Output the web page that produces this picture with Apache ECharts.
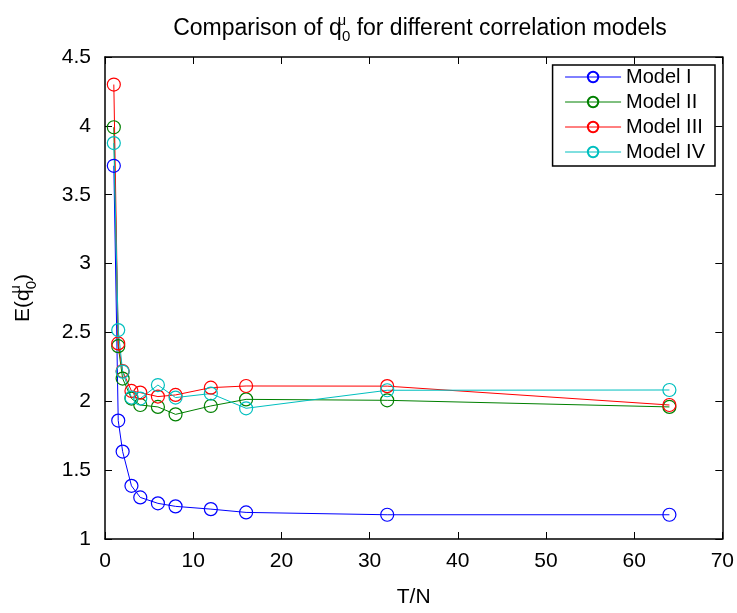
<!DOCTYPE html>
<html><head><meta charset="utf-8">
<script src="https://cdn.jsdelivr.net/npm/echarts@6/dist/echarts.min.js"></script>
<style>html,body{margin:0;padding:0;background:#fff}#c{width:737px;height:613px}</style>
</head><body><div id="c"></div>
<script>
const xValues = [1, 1.5, 2, 3, 4, 6, 8, 12, 16, 32, 64];
const modelI   = [3.71, 1.86, 1.635, 1.386, 1.302, 1.259, 1.237, 1.217, 1.193, 1.176, 1.176];
const modelII  = [3.99, 2.40, 2.165, 2.02, 1.973, 1.959, 1.905, 1.966, 2.014, 2.007, 1.959];
const modelIII = [4.30, 2.42, 2.22, 2.075, 2.063, 2.034, 2.046, 2.099, 2.111, 2.11, 1.973];
const modelIV  = [3.875, 2.517, 2.215, 2.027, 2.02, 2.118, 2.027, 2.056, 1.949, 2.08, 2.082];
const seriesNames = ['Model I', 'Model II', 'Model III', 'Model IV'];
const seriesColors = ['#0000ff', '#008000', '#ff0000', '#00bfbf'];
const seriesValues = [modelI, modelII, modelIII, modelIV];

const font = 'Liberation Sans, Arial, sans-serif';
const chart = echarts.init(document.getElementById('c'));
const tickStyle = {show: true, inside: true, length: 7, lineStyle: {color: '#000', width: 1}};
const lineAx = {show: true, onZero: false, lineStyle: {color: '#000', width: 1.5}};
const richSupSub = {
  sup: {fontFamily: font, fontSize: 15, color: '#000', width: 0, padding: [0, 0, 16, 0]},
  sub: {fontFamily: font, fontSize: 15, color: '#000', padding: [16, 0, 0, 0]}
};

chart.setOption({
  animation: false,
  backgroundColor: '#fff',
  title: {
    text: 'Comparison of q{sup|u}{sub|0} for different correlation models',
    left: 415, top: 8, textAlign: 'center',
    textStyle: {fontFamily: font, fontSize: 23, fontWeight: 'normal', color: '#000', rich: richSupSub}
  },
  legend: {
    orient: 'vertical', right: 22, top: 65,
    data: seriesNames,
    itemWidth: 56, itemHeight: 13, itemGap: 5,
    borderColor: '#000', borderWidth: 1.5, padding: [2, 10, 4, 12],
    backgroundColor: '#fff',
    lineStyle: {width: 1},
    textStyle: {fontFamily: font, fontSize: 20, color: '#000', lineHeight: 20}
  },
  grid: {left: 105, right: 14, top: 57, bottom: 73},
  xAxis: [{
    type: 'value', min: 0, max: 70, interval: 10,
    name: 'T/N', nameLocation: 'middle', nameGap: 48,
    nameTextStyle: {fontFamily: font, fontSize: 21, color: '#000'},
    axisLine: lineAx, axisTick: tickStyle, splitLine: {show: false},
    axisLabel: {fontFamily: font, fontSize: 21, color: '#000', margin: 12}
  }, {
    type: 'value', min: 0, max: 70, interval: 10, position: 'top',
    axisLine: lineAx, axisTick: tickStyle, splitLine: {show: false},
    axisLabel: {show: false}
  }],
  yAxis: [{
    type: 'value', min: 1, max: 4.5, interval: 0.5,
    name: 'E(q{sup|u}{sub|0})', nameLocation: 'middle', nameGap: 66, nameRotate: 90,
    nameTextStyle: {fontFamily: font, fontSize: 21, color: '#000', rich: richSupSub},
    axisLine: lineAx, axisTick: tickStyle, splitLine: {show: false},
    axisLabel: {fontFamily: font, fontSize: 21, color: '#000', margin: 14}
  }, {
    type: 'value', min: 1, max: 4.5, interval: 0.5, position: 'right',
    axisLine: lineAx, axisTick: tickStyle, splitLine: {show: false},
    axisLabel: {show: false}
  }],
  series: seriesNames.map((n, i) => ({
    name: n, type: 'line',
    data: xValues.map((x, j) => [x, seriesValues[i][j]]),
    symbol: 'circle', symbolSize: 13,
    color: seriesColors[i],
    itemStyle: {color: 'rgba(255,255,255,0)', borderColor: seriesColors[i], borderWidth: 1.2},
    lineStyle: {color: seriesColors[i], width: 1},
    emphasis: {disabled: true}
  }))
});
</script></body></html>
